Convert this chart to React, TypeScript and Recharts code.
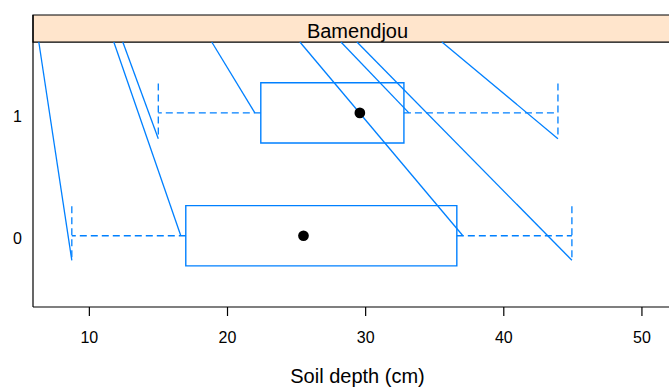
import React from 'react';
import {
  ComposedChart,
  XAxis,
  YAxis,
  ZAxis,
  Scatter,
  ReferenceArea,
  ReferenceLine,
} from 'recharts';

// Box-plot statistics per group (y = group code)
const groups = [0, 1];
const mins = [8.73, 14.99];
const q1s = [16.98, 22.41];
const medians = [25.5, 29.58];
const q3s = [36.6, 32.77];
const maxs = [44.93, 43.92];

// Stray connector lines in the reference (top x at strip edge -> end point)
const strayTopX = [6.34, 11.77, 12.42, 18.86, 25.24, 28.21, 29.37, 35.52];
const strayEndX = [8.73, 16.62, 14.99, 21.98, 37.04, 33.13, 44.93, 43.92];
const strayEndY = [-0.2, 0, 0.79, 1, 0, 1, -0.2, 0.79];

const xTicks = [10, 20, 30, 40, 50];
const yTicks = [0, 1];
const panelTitle = 'Bamendjou';
const xTitle = 'Soil depth (cm)';

const X_MIN = 5.92;
const X_MAX = 52.9;
const Y_MIN = -0.58;
const Y_MAX = 1.797;
const STRIP_BOTTOM = 1.577;
const BOX_HALF = 0.245;
const CAP_TOP = 0.24;
const CAP_BOTTOM = 0.2;

const BLUE = '#0080ff';
const FONT = '"Liberation Sans", Arial, sans-serif';

const medianData = groups.map((g, i) => ({ x: medians[i], y: g }));

const css = `
.recharts-cartesian-axis-tick-value { font-size: 16px; font-family: ${FONT}; fill: #000; }
`;

export default function App() {
  return (
    <div
      style={{
        position: 'fixed',
        left: 8,
        top: 8,
        width: 661,
        height: 379,
        overflow: 'hidden',
        background: '#fff',
      }}
    >
      <style>{css}</style>
      <ComposedChart
        width={674}
        height={379}
        margin={{ top: 7, right: 0, left: 1, bottom: 8 }}
        style={{ fontFamily: FONT }}
      >
        <XAxis
          type="number"
          dataKey="x"
          domain={[X_MIN, X_MAX]}
          ticks={xTicks}
          allowDataOverflow
          height={72}
          tickSize={9}
          tickMargin={16}
          fontSize={16}
          axisLine={{ stroke: '#000', strokeWidth: 1.2 }}
          tickLine={{ stroke: '#000', strokeWidth: 1.2 }}
          tick={{ fontSize: 16, fill: '#000', fontFamily: FONT }}
          label={{
            value: xTitle,
            position: 'insideBottom',
            offset: -4,
            fontSize: 20,
            fill: '#000',
            fontFamily: FONT,
          }}
        />
        <YAxis
          type="number"
          dataKey="y"
          domain={[Y_MIN, Y_MAX]}
          ticks={yTicks}
          allowDataOverflow
          width={24}
          tickSize={0}
          tickMargin={11}
          fontSize={16}
          tickLine={false}
          axisLine={{ stroke: '#000', strokeWidth: 1.2 }}
          tick={{ fontSize: 16, fill: '#000', fontFamily: FONT, dy: 3 }}
        />
        <ZAxis range={[90, 90]} />

        {/* strip */}
        <ReferenceArea
          x1={X_MIN}
          x2={X_MAX}
          y1={STRIP_BOTTOM}
          y2={Y_MAX}
          fill="#ffe5cc"
          fillOpacity={1}
          stroke="#000"
          strokeWidth={1.2}
          ifOverflow="visible"
          label={{
            value: panelTitle,
            position: 'center',
            fontSize: 20,
            fill: '#000',
            fontFamily: FONT,
            dy: 2,
          }}
        />

        {/* boxes */}
        {groups.map((g, i) => (
          <ReferenceArea
            key={'box' + g}
            x1={q1s[i]}
            x2={q3s[i]}
            y1={g - BOX_HALF}
            y2={g + BOX_HALF}
            fill="none"
            fillOpacity={0}
            stroke={BLUE}
            strokeWidth={1.4}
            strokeOpacity={1}
          />
        ))}

        {/* whiskers */}
        {groups.map((g, i) => (
          <ReferenceLine
            key={'wl' + g}
            segment={[
              { x: q1s[i], y: g },
              { x: mins[i], y: g },
            ]}
            stroke={BLUE}
            strokeWidth={1.3}
            strokeDasharray="7 4"
          />
        ))}
        {groups.map((g, i) => (
          <ReferenceLine
            key={'wr' + g}
            segment={[
              { x: q3s[i], y: g },
              { x: maxs[i], y: g },
            ]}
            stroke={BLUE}
            strokeWidth={1.3}
            strokeDasharray="7 4"
          />
        ))}
        {groups.map((g, i) => (
          <ReferenceLine
            key={'cl' + g}
            segment={[
              { x: mins[i], y: g + CAP_TOP },
              { x: mins[i], y: g - CAP_BOTTOM },
            ]}
            stroke={BLUE}
            strokeWidth={1.3}
            strokeDasharray="7 4"
          />
        ))}
        {groups.map((g, i) => (
          <ReferenceLine
            key={'cr' + g}
            segment={[
              { x: maxs[i], y: g + CAP_TOP },
              { x: maxs[i], y: g - CAP_BOTTOM },
            ]}
            stroke={BLUE}
            strokeWidth={1.3}
            strokeDasharray="7 4"
          />
        ))}

        {/* stray connector lines */}
        {strayTopX.map((tx, i) => (
          <ReferenceLine
            key={'s' + i}
            segment={[
              { x: tx, y: STRIP_BOTTOM },
              { x: strayEndX[i], y: strayEndY[i] },
            ]}
            stroke={BLUE}
            strokeWidth={1.3}
          />
        ))}

        <Scatter
          data={medianData}
          dataKey="y"
          fill="#000"
          shape="circle"
          isAnimationActive={false}
        />
      </ComposedChart>
    </div>
  );
}
